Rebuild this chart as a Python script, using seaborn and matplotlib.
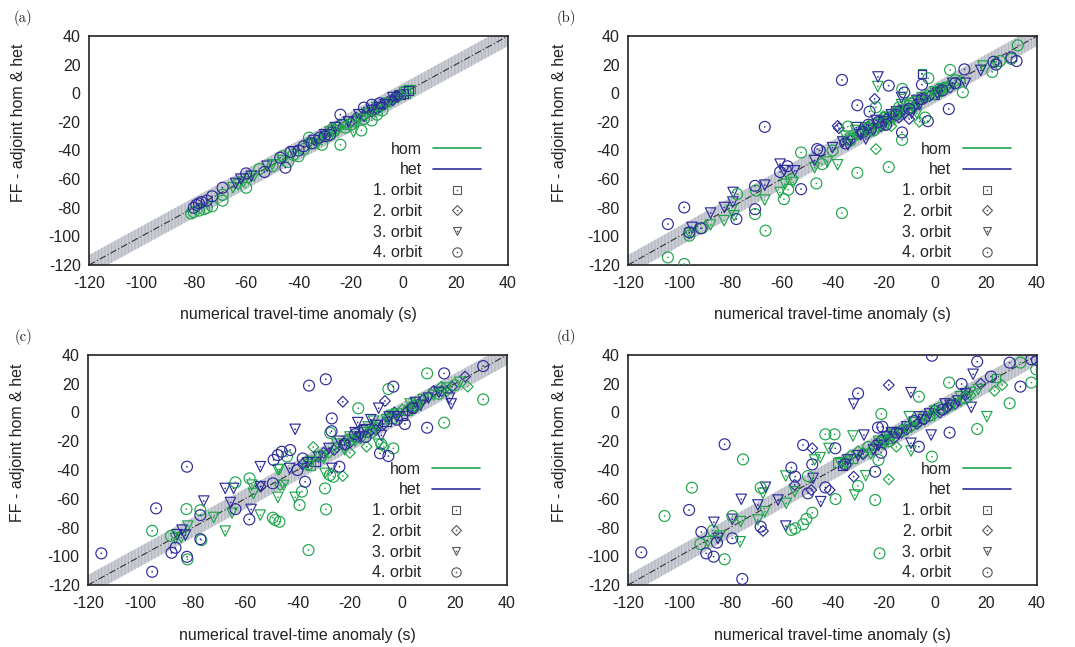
import numpy as np
import pandas as pd
import matplotlib
matplotlib.use("Agg")
import matplotlib.pyplot as plt
from matplotlib.lines import Line2D
from matplotlib.legend_handler import HandlerTuple
import seaborn as sns

# cores e textos
GREEN = "#1fa64d"
BLUE = "#2c2c9c"
MARKER_GREY = "#555555"

ticks = [-120, -100, -80, -60, -40, -20, 0, 20, 40]
panel_labels = ["(a)", "(b)", "(c)", "(d)"]
orbit_labels = ["1. orbit", "2. orbit", "3. orbit", "4. orbit"]
model_labels = ["hom", "het"]
x_label = "numerical travel-time anomaly (s)"
y_label = "FF - adjoint hom & het"
band_halfwidth = 7

# painel (a): pares (numérico, adjunto) por órbita
a_hom_o1 = [(0, 1), (1, 2), (2, 3), (3, 3), (1, 0), (-2, -1)]
a_hom_o2 = [(-18, -19), (-13, -13), (-8, -9), (-5, -6), (-2, -3), (-1, -1), (-22, -22), (-33, -33),
            (-30, -29), (-26, -27), (-15, -15), (-11, -12), (-4, -4)]
a_hom_o3 = [(-65, -66), (-63, -64), (-61, -62), (-59, -60), (-28, -27), (-25, -26), (-19, -27),
            (-14, -14), (-10, -10), (-57, -58), (-50, -50), (-46, -47), (-36, -36), (-32, -33),
            (-23, -22), (-17, -18), (-6, -7)]
a_hom_o4 = [(-81, -84), (-80, -83), (-78, -82), (-76, -81), (-75, -80), (-73, -79), (-69, -75),
            (-69, -71), (-60, -66), (-55, -53), (-50, -51), (-46, -44), (-44, -48), (-42, -43),
            (-40, -44), (-36, -31), (-34, -35), (-31, -36), (-27, -25), (-24, -36), (-22, -24),
            (-20, -22), (-16, -26), (-15, -18), (-12, -19), (-10, -15), (-8, -12), (-38, -39),
            (-29, -30)]
a_het_o1 = [(0, 0), (2, 2), (-1, -1)]
a_het_o2 = [(-20, -20), (-15, -16), (-10, -11), (-6, -6), (-4, -5), (-3, -2), (-36, -34), (-25, -23),
            (-28, -27), (-18, -17), (-12, -13), (-8, -8), (-2, -2)]
a_het_o3 = [(-64, -63), (-62, -60), (-58, -58), (-30, -29), (-26, -24), (-17, -15), (-12, -12),
            (-7, -8), (-4, -3), (-52, -51), (-42, -41), (-34, -33), (-21, -20), (-9, -10)]
a_het_o4 = [(-80, -80), (-79, -78), (-78, -77), (-77, -76), (-75, -75), (-73, -72), (-69, -66),
            (-60, -56), (-53, -55), (-45, -52), (-43, -41), (-40, -40), (-38, -37), (-35, -35),
            (-30, -30), (-24, -15), (-15, -10), (-12, -8), (-9, -7), (-47, -45), (-32, -31),
            (-28, -29)]

# painel (b)
b_hom_o1 = [(-5, 13.7), (-18, -17), (-10, -10), (1, 1)]
b_hom_o2 = [(-23, -39), (-26, -28), (-20, -16), (-14, -12), (-8, -10), (-3, -1), (3, 2), (10, 9),
            (24, 22), (-6, -20), (-32, -31), (-17, -23), (-30, -29), (-22, -24), (-18, -19),
            (-12, -14), (-6, -5), (0, -1), (5, 5)]
b_hom_o3 = [(-87.7, -92), (-82.4, -89), (-79.5, -82), (-78.5, -85.6), (-66.5, -74.6), (-60.5, -69.3),
            (-58.6, -63.5), (-55.4, -62.3), (-47, -52), (-42, -48), (-38, -50), (-22.3, 4.7),
            (-28, -27), (-24, -22), (-19, -17), (-16, -18), (-10, -9), (-5, -3), (-13, -8), (0, 1),
            (5, 4), (18.8, 19), (-35, -30), (-31, -26), (-7, -14), (-96, -98), (-33, -32),
            (-27, -24), (-21, -21), (-14, -13), (-9, -7), (-3, -3), (3, 3)]
b_hom_o4 = [(-104.4, -114.7), (-98, -119.3), (-96, -99.5), (-91, -94.2), (-77.3, -70.5), (-70, -68),
            (-70.3, -84.4), (-66.2, -96), (-57.3, -67.4), (-59, -74), (-52.3, -41.4), (-46.3, -63),
            (-44, -49.5), (-36.3, -83.7), (-34, -23.3), (-30.3, -55.6), (-23, -9.8), (-18, -51.6),
            (-12.8, -32.6), (-12.7, 3), (-2.5, 10.5), (6, 16.3), (11, 0.7), (22.5, 14.9),
            (25.5, 22.5), (32.5, 33.5), (30, 24), (-3.8, -17), (-20, -22), (-26, -25), (-15, -14),
            (-8, -6), (2, 3), (8, 9), (-40, -40), (-33, -33), (-56, -60), (-24, -26), (-14, -10)]
b_het_o1 = [(-5, 13.5), (-25, -24), (0, -1)]
b_het_o2 = [(-38, -22.8), (-37.5, -24.4), (-23.5, -4), (-21, -23), (-14, -17), (-4, -3), (6, 4),
            (-29, -28), (-10, -18), (-33, -33), (-26, -23), (-19, -18), (-16, -14), (-8, -9),
            (-2, -2), (2, 3)]
b_het_o3 = [(-95, -93.7), (-87.7, -83.7), (-82.3, -79.8), (-79, -76), (-78.9, -69.3), (-66.5, -64.2),
            (-60.5, -49.5), (-59, -54), (-54.8, -54.2), (-47, -47), (-40, -38), (-30.7, -24),
            (-22.2, 11.4), (-24, -26), (-20, -20), (-17, -15), (-12, -12), (-13, -3), (-6, -8),
            (18, 16), (12, 7), (-34, -36), (-27, -32), (-9, -14), (-36, -34), (-29, -29),
            (-23, -19), (-15, -13), (-7, -5), (1, 0), (7, 7)]
b_het_o4 = [(-104.4, -91.4), (-98, -79.8), (-96, -97.2), (-91.5, -94.4), (-77.6, -87.9), (-70.3, -64.7),
            (-70.3, -81), (-66.5, -23.5), (-60.5, -55), (-57.6, -51), (-52.3, -67), (-46, -39),
            (-45, -40), (-36.3, 9.3), (-30.3, -8.4), (-25.5, -12.8), (-18, 5.3), (-12.8, -27.4),
            (-11.9, 0.5), (-5, 6), (-2.7, -19.5), (5.5, -11), (11.6, 16.7), (23, 22), (24, 20),
            (30, 25), (32, 22.5), (-35, -35), (-22, -20), (-15, -15), (-5, -4), (3, 2), (8, 7),
            (-28, -27), (-19, -22), (-26, -22), (-10, -11)]

# painel (c)
c_hom_o1 = [(-35, -37), (-10, -8), (-4, -4), (2, 1)]
c_hom_o2 = [(-46.6, -50.5), (-22.7, -44.2), (-13.6, -23.8), (-7, -24), (-25, -24), (-16, -18),
            (-10, -10), (0, 2), (6, 5), (17, 15), (25, 18), (-34, -24), (-20, -28), (-28, -28),
            (-21, -19), (-12, -13), (-5, -3), (3, 4), (10, 11), (15, 18)]
c_hom_o3 = [(-86.6, -87.6), (-84.4, -87), (-81.9, -79), (-72, -73), (-67.6, -82.5), (-65, -70),
            (-57.4, -50.5), (-56.8, -56.3), (-54.2, -71.4), (-47.5, -39.9), (-46.9, -39.6),
            (-47.5, -59), (-45.3, -50.7), (-40.9, -59), (-29.5, -42.3), (-30, -32), (-22, -26),
            (-18, -20), (-15, -14), (-9, -22), (-6, -5), (-2, -1), (3, 6), (8, 9), (12, 12),
            (22, 21), (-11, -6), (-35, -34), (-25, -22), (-20, -17), (-13, -10), (-4, -2), (5, 3),
            (17, 17)]
c_hom_o4 = [(-95.5, -82.3), (-88.3, -85.8), (-82.4, -67.2), (-82, -102.2), (-77.1, -68), (-76.7, -88.8),
            (-63.7, -48.6), (-58.3, -45.8), (-49.4, -73.2), (-48.5, -74.8), (-46.9, -76),
            (-44, -30.6), (-39.2, -64.4), (-38.3, -55), (-35.8, -95.7), (-29.5, -52.8),
            (-29.1, -67.4), (-27.6, -43.5), (-26.3, -44.7), (-16.8, 2.9), (-5.3, 16.3), (-3.4, -25),
            (9.5, 27.2), (16, -7.1), (30.9, 9.1), (-27.5, -14.2), (-36, -36), (-20, -19), (-12, -14),
            (5, 5), (14, 13), (20, 19), (-31, -30), (-8, -22)]
c_het_o1 = [(-33, -34), (-15, -12), (-6, -6), (0, -2)]
c_het_o2 = [(-54, -51.4), (-22.7, 7.5), (-6.6, 8), (-26, -26), (-17, -17), (-10, -12), (-3, 0), (4, 3),
            (12, 15), (24, 25), (-38, -36), (19, 18), (-30, -28), (-20, -21), (-13, -14), (-7, -8),
            (2, 1), (8, 9), (15, 15)]
c_het_o3 = [(-84.1, -81.8), (-82.8, -85.3), (-86, -85), (-75.8, -61.6), (-67.6, -52.8), (-64.4, -52.8),
            (-65.6, -62.6), (-57.7, -67.4), (-54.2, -37.7), (-54.2, -51.6), (-43, -38.9),
            (-40.9, -11.7), (-26.9, -38.9), (-28, -25), (-17, -7), (-18, -14), (-14, -12), (-8, -16),
            (-9, 3), (-5, -3), (5, 7), (10, 10), (18, 10), (18.7, 6), (-32, -31), (-24, -20),
            (-12, -5), (-36, -35), (-22, -23), (-16, -17), (-10, -9), (-2, -3), (7, 5), (14, 14)]
c_het_o4 = [(-114.9, -98), (-95.5, -110.8), (-94, -66.7), (-88.1, -97.6), (-86.6, -94.1),
            (-82.2, -100.4), (-82.2, -37.7), (-77.1, -71.4), (-77.1, -88.1), (-63.7, -67.2),
            (-58.4, -74.4), (-49.4, -49.3), (-49.1, -33), (-47.5, -29.6), (-46, -27.3), (-42.8, -26.1),
            (-37.1, -48.2), (-35.6, 18.7), (-29.2, 23.1), (-26.9, -4.1), (-24, -37.7), (-8.5, -28.4),
            (-5.3, -30.3), (-3.4, 18), (9.5, -10.6), (16, 27.2), (30.9, 32.3), (-27, -13),
            (-38, -32), (-22, -22), (-14, -17), (-2, -5), (4, 3), (1, -8), (-40, -40), (-18, -15)]

# painel (d)
d_hom_o1 = [(-38, -35), (-32, -32), (24, 24), (-2, -2), (-18, -18)]
d_hom_o2 = [(-18, -46.5), (-15, -23.8), (23.4, 15), (26.4, 19.1), (-20, -22), (-13, -12), (-6, -7),
            (0, -1), (5, 3), (10, 8), (-33, -30), (-28, -28), (-30, -27), (-24, -25), (-17, -16),
            (-9, -10), (-2, -3), (7, 7), (14, 12)]
d_hom_o3 = [(-88.7, -89.9), (-84, -86), (-76.1, -89.9), (-75.9, -75.9), (-69.2, -74.8), (-67.2, -56.2),
            (-66.5, -69), (-58.3, -44.2), (-58.1, -63.2), (-54.8, -55.1), (-47, -33), (-44.8, -31.4),
            (-41.4, -25), (-32, -16.3), (-31.3, -57.4), (-9.3, -26.8), (-10, -2.9), (20.4, -2.9),
            (-27, -44), (-22, -20), (-16, -15), (-12, -13), (-4, -3), (7, 5), (14, 14), (-37, -35),
            (-25, -29), (-35, -36), (-20, -21), (-18, -17), (-8, -7), (0, 1), (10, 11), (17, 16)]
d_hom_o4 = [(-105.7, -72), (-95, -52.3), (-91.7, -91.5), (-86.8, -82.2), (-82.2, -102.1), (-79.2, -72),
            (-75, -32.6), (-68.1, -52.3), (-56.1, -81.7), (-54.6, -80.6), (-51.5, -77.8),
            (-50.2, -74.1), (-47.9, -69.7), (-49.6, -44.2), (-42.8, -15.2), (-39.2, -15.2),
            (-38.8, -60.2), (-30, -51.1), (-23.3, -60.9), (-21.6, -98), (-20.9, -1), (-6.2, 11),
            (-1.1, -30.7), (5.6, 20.8), (16.6, -11.5), (29.3, 6.4), (33.5, 34.7), (37.8, 20.8),
            (39.7, 30), (-22, -33), (-34, -34), (-18, -20), (-10, -10), (2, 3), (12, 10), (-26, -24)]
d_het_o1 = [(-36, -37), (-20, -19), (-5, -4)]
d_het_o2 = [(-67.2, -82.4), (-54.8, -50.4), (-47.9, -24.9), (-48.3, -53.9), (-41.1, -53.9),
            (-31.7, -44.6), (-18, 19.1), (-23, -22), (-16, -18), (-11, -12), (-4, -5), (2, 0), (8, 6),
            (18, 20), (-28, -29), (-21, -19), (-13, -14), (-7, -8), (0, 2), (5, 4), (12, 12)]
d_het_o3 = [(-86.4, -76.4), (-84.8, -87.5), (-79.2, -74.3), (-75.7, -60.4), (-69.2, -64.3), (-66.2, -52),
            (-61.3, -60.9), (-58.3, -79), (-47.6, -45.8), (-44.6, -62), (-31.7, 5.9), (-27.7, -15.7),
            (-9.3, 13.8), (-9.3, -21.4), (-1.4, -15.7), (15, 26.6), (14.3, 3.6), (-24, -26),
            (-19, -17), (-14, -15), (-6, -3), (4, 6), (9, 8), (-30, -30), (-34, -33), (-22, -23),
            (-17, -14), (-11, -10), (-2, -1), (6, 5), (12, 13)]
d_het_o4 = [(-114.8, -97.3), (-96.1, -67.8), (-91.3, -83.1), (-89.4, -98), (-86.5, -100.3),
            (-85.2, -90.5), (-82.2, -22.1), (-79.2, -87.5), (-75.3, -115.8), (-68.1, -79.4),
            (-56.1, -38.4), (-54.6, -44.6), (-51.5, -22.6), (-49.6, -56.2), (-47.9, -36.1),
            (-42.8, -52.1), (-38.9, -24.9), (-30, 13.3), (-23.3, -41.2), (-22.2, -10.5),
            (-20.5, -9.9), (-6.2, -23.8), (-1.1, 39.5), (5.8, -14), (10.5, 19.8), (16.6, 35.4),
            (29.3, 34.7), (33.5, 18), (37.8, 37), (40, 36.5), (-21, -28), (-15, -14), (-8, -6),
            (3, 2), (-35, -36), (22, 25)]

panels = [
    ([a_hom_o1, a_hom_o2, a_hom_o3, a_hom_o4], [a_het_o1, a_het_o2, a_het_o3, a_het_o4]),
    ([b_hom_o1, b_hom_o2, b_hom_o3, b_hom_o4], [b_het_o1, b_het_o2, b_het_o3, b_het_o4]),
    ([c_hom_o1, c_hom_o2, c_hom_o3, c_hom_o4], [c_het_o1, c_het_o2, c_het_o3, c_het_o4]),
    ([d_hom_o1, d_hom_o2, d_hom_o3, d_hom_o4], [d_het_o1, d_het_o2, d_het_o3, d_het_o4]),
]

markers = {"1. orbit": "s", "2. orbit": "D", "3. orbit": "v", "4. orbit": "o"}
marker_sizes = {"1. orbit": 40, "2. orbit": 30, "3. orbit": 56, "4. orbit": 62}
palette = {"hom": GREEN, "het": BLUE}

# posições dos eixos em pixels (esquerda, topo, direita, baixo)
W, H = 1075, 647
axes_px = [(89, 36, 508, 265), (628, 36, 1037, 265), (88, 355, 507, 585), (628, 355, 1037, 585)]
label_px = [(23, 18), (566, 18), (23, 337), (566, 337)]


def make_frame(hom, het):
    rows = []
    for model, sets in zip(model_labels, (hom, het)):
        for orb, pts in zip(orbit_labels, sets):
            for x, y in pts:
                rows.append((x, y, model, orb))
    return pd.DataFrame(rows, columns=["num", "adj", "model", "orbit"])


def main():
    sns.set_style("white")
    plt.rcParams["font.family"] = ["Liberation Sans", "DejaVu Sans"]
    plt.rcParams["axes.unicode_minus"] = False
    plt.rcParams["hatch.linewidth"] = 0.6

    fig = plt.figure(figsize=(W / 100, H / 100), dpi=100)

    for i, (hom, het) in enumerate(panels):
        l, t, r, b = axes_px[i]
        ax = fig.add_axes([l / W, 1 - b / H, (r - l) / W, (b - t) / H])
        data = make_frame(hom, het)

        # faixa cinza e linha 1:1
        diag = np.array([-120.0, 40.0])
        ax.fill_between(diag, diag - band_halfwidth, diag + band_halfwidth, facecolor="#cacdd4",
                        edgecolor="#aeb2bb", hatch="|||||", linewidth=0, zorder=1)
        ax.plot(diag, diag, color="#333333", lw=0.8, ls=(0, (6, 2, 1, 2)), zorder=2)

        for orb in orbit_labels:
            sub = data[data["orbit"] == orb]
            sns.scatterplot(data=sub, x="num", y="adj", hue="model", palette=palette,
                            hue_order=model_labels, marker=markers[orb], s=marker_sizes[orb],
                            linewidth=0.85, legend=False, ax=ax, zorder=3)
            pts = ax.collections[-1]
            fc = pts.get_facecolors()
            pts.set_edgecolors(fc)
            pts.set_facecolors("none")
            # ponto central dos símbolos do gnuplot
            sns.scatterplot(data=sub, x="num", y="adj", hue="model", palette=palette,
                            hue_order=model_labels, marker="o", s=1.5, linewidth=0,
                            legend=False, ax=ax, zorder=3)

        ax.set_xlim(-120, 40)
        ax.set_ylim(-120, 40)
        ax.set_xticks(ticks)
        ax.set_yticks(ticks)
        ax.tick_params(direction="in", length=4, width=0.8, labelsize=11.5, colors="#222222")
        ax.tick_params(axis="x", pad=8)
        ax.tick_params(axis="y", pad=6)
        for sp in ax.spines.values():
            sp.set_linewidth(1.2)
            sp.set_color("#222222")
        ax.set_xlabel(x_label, fontsize=11.5, color="#222222")
        ax.set_ylabel(y_label, fontsize=11.5, color="#222222")
        ax.xaxis.set_label_coords(0.5, -0.185)
        ax.yaxis.set_label_coords(-0.15, 0.62)

        # legenda
        handles = [
            Line2D([], [], color=GREEN, lw=1.2),
            Line2D([], [], color=BLUE, lw=1.2),
        ]
        for orb in orbit_labels:
            outline = Line2D([], [], ls="none", marker=markers[orb], mfc="none", mec=MARKER_GREY,
                             mew=0.8, ms=np.sqrt(marker_sizes[orb]) * 0.85)
            dot = Line2D([], [], ls="none", marker="o", mfc=MARKER_GREY, mec="none", ms=1.2)
            handles.append((outline, dot))
        ax.legend(handles, model_labels + orbit_labels, loc="lower right",
                  bbox_to_anchor=(0.955, -0.015), frameon=False, markerfirst=False,
                  fontsize=11.5, handlelength=3.0, handletextpad=0.7, labelspacing=0.36,
                  borderpad=0, handler_map={tuple: HandlerTuple(ndivide=1)})

        fig.text(label_px[i][0] / W, 1 - label_px[i][1] / H, panel_labels[i], family="cmr10",
                 fontsize=10.5, ha="center", va="center", color="#222222")

    fig.savefig("out.png", dpi=100, facecolor="white")


if __name__ == "__main__":
    main()
